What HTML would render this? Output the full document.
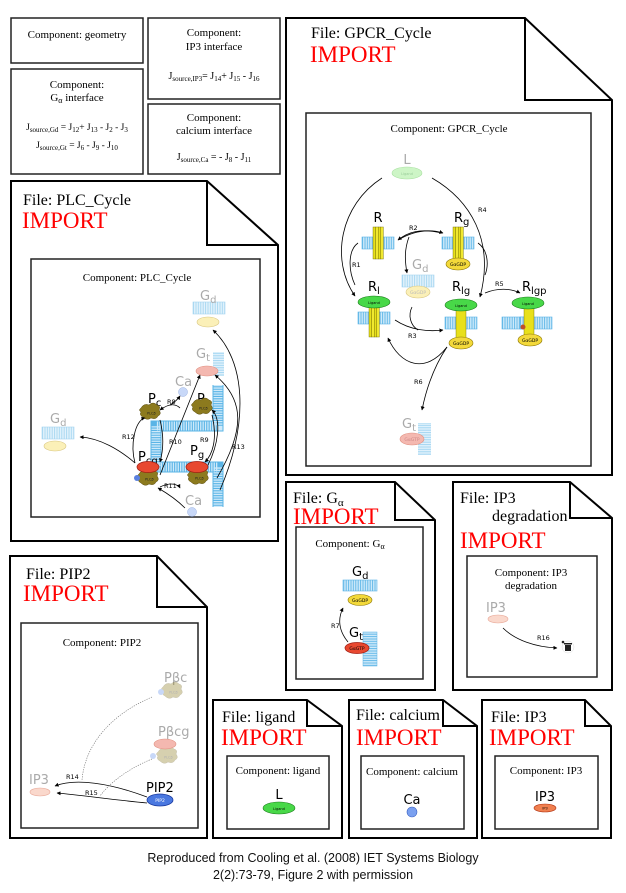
<!DOCTYPE html>
<html><head><meta charset="utf-8"><style>
html,body{margin:0;padding:0;background:#fff}
svg{display:block}
.s{font-family:"Liberation Serif",serif;fill:#000}
.a{font-family:"Liberation Sans",sans-serif}
.imp{font-family:"Liberation Serif",serif;fill:#f00;font-size:23px}
.ft{font-family:"Liberation Serif",serif;font-size:16px}
.ct{font-family:"Liberation Serif",serif;font-size:11px}
.rl{font-family:"DejaVu Sans",sans-serif;font-size:6.5px}
.ml{font-family:"DejaVu Sans",sans-serif;font-size:13px}
.gy{fill:#aaa}
.ln{fill:none;stroke:#000;stroke-width:0.8}
.dl{fill:none;stroke:#666;stroke-width:0.6;stroke-dasharray:1.2 1.2}
.bx{fill:#fff;stroke:#222;stroke-width:1.5}
.fb{fill:#fff;stroke:#000;stroke-width:2}
</style></head><body>
<svg width="626" height="893" viewBox="0 0 626 893" xmlns="http://www.w3.org/2000/svg">
<defs>
<pattern id="mp" width="2.4" height="12" patternUnits="userSpaceOnUse">
<rect width="2.4" height="12" fill="#cfeafa"/><line x1="0.6" y1="0" x2="0.6" y2="12" stroke="#5ab4e6" stroke-width="0.9"/>
</pattern>
<pattern id="mpv" width="12" height="2.4" patternUnits="userSpaceOnUse">
<rect width="12" height="2.4" fill="#cfeafa"/><line x1="0" y1="0.6" x2="12" y2="0.6" stroke="#5ab4e6" stroke-width="0.9"/>
</pattern>
<g id="mem"><rect x="0" y="0" width="32" height="12" fill="url(#mp)" stroke="#5ab4e6" stroke-width="0.6"/></g>
<g id="hel"><rect x="0" y="0" width="2.6" height="32" fill="#e8e01a" stroke="#6a6400" stroke-width="0.4"/><rect x="2.6" y="0" width="2.6" height="32" fill="#f0e830" stroke="#6a6400" stroke-width="0.4"/><rect x="5.2" y="0" width="2.6" height="32" fill="#e8e01a" stroke="#6a6400" stroke-width="0.4"/><rect x="7.8" y="0" width="2.6" height="32" fill="#f0e830" stroke="#6a6400" stroke-width="0.4"/></g>
<g id="plc"><path d="M-9,-5 q3,-5 8,-3 q4,-4 8,0 q4,1 2,5 q3,4 -1,6 q-2,4 -7,2 q-4,3 -8,-1 q-4,-2 -2,-5 q-3,-2 0,-4z" fill="#8c7a1e" stroke="#5a4c10" stroke-width="0.5"/><text x="-3" y="1.5" font-size="3.5" font-family="DejaVu Sans" fill="#222">PLCβ</text></g>
<marker id="ar" viewBox="0 0 10 10" refX="9" refY="5" markerWidth="5" markerHeight="5" orient="auto"><path d="M0,0L10,5L0,10z" fill="#000"/></marker>
</defs>

<!-- top left boxes -->
<rect x="11" y="18" width="132" height="45" class="bx"/>
<text x="77" y="38" class="ct" text-anchor="middle">Component: geometry</text>
<rect x="11" y="69" width="132" height="105" class="bx"/>
<text x="77" y="88" class="ct" text-anchor="middle">Component:</text>
<text x="77" y="101" class="ct" text-anchor="middle">G<tspan font-size="8" dy="2">α</tspan><tspan dy="-2"> interface</tspan></text>
<text x="77" y="130" class="s" font-size="9.5" text-anchor="middle">J<tspan font-size="7" dy="2">source,Gd</tspan><tspan dy="-2"> = J</tspan><tspan font-size="7" dy="2">12</tspan><tspan dy="-2">+ J</tspan><tspan font-size="7" dy="2">13</tspan><tspan dy="-2"> - J</tspan><tspan font-size="7" dy="2">2</tspan><tspan dy="-2"> - J</tspan><tspan font-size="7" dy="2">3</tspan></text>
<text x="77" y="148" class="s" font-size="9.5" text-anchor="middle">J<tspan font-size="7" dy="2">source,Gt</tspan><tspan dy="-2"> = J</tspan><tspan font-size="7" dy="2">6</tspan><tspan dy="-2"> - J</tspan><tspan font-size="7" dy="2">9</tspan><tspan dy="-2"> - J</tspan><tspan font-size="7" dy="2">10</tspan></text>
<rect x="148" y="18" width="132" height="81" class="bx"/>
<text x="214" y="36" class="ct" text-anchor="middle">Component:</text>
<text x="214" y="50" class="ct" text-anchor="middle">IP3 interface</text>
<text x="214" y="79" class="s" font-size="10" text-anchor="middle">J<tspan font-size="7" dy="2">source,IP3</tspan><tspan dy="-2">= J</tspan><tspan font-size="7" dy="2">14</tspan><tspan dy="-2">+ J</tspan><tspan font-size="7" dy="2">15</tspan><tspan dy="-2"> - J</tspan><tspan font-size="7" dy="2">16</tspan></text>
<rect x="148" y="104" width="132" height="70" class="bx"/>
<text x="214" y="121" class="ct" text-anchor="middle">Component:</text>
<text x="214" y="134" class="ct" text-anchor="middle">calcium interface</text>
<text x="214" y="160" class="s" font-size="10" text-anchor="middle">J<tspan font-size="7" dy="2">source,Ca</tspan><tspan dy="-2"> = - J</tspan><tspan font-size="7" dy="2">8</tspan><tspan dy="-2"> - J</tspan><tspan font-size="7" dy="2">11</tspan></text>

<!-- GPCR file -->
<path d="M286,18 H525 L612,100 V475 H286 Z" class="fb"/>
<path d="M525,18 V100 H612" fill="none" stroke="#000" stroke-width="2"/>
<text x="311" y="38" class="ft">File: GPCR_Cycle</text>
<text x="310" y="62" class="imp">IMPORT</text>
<rect x="306" y="113" width="285" height="353" class="bx"/>
<text x="449" y="132" class="ct" text-anchor="middle">Component: GPCR_Cycle</text>
<text x="407" y="164" class="ml gy" text-anchor="middle">L</text>
<ellipse cx="407" cy="173" rx="15" ry="6" fill="#cdf5c6" stroke="#a8e0a0" stroke-width="0.6"/>
<text x="407" y="175" font-size="3.5" font-family="DejaVu Sans" fill="#9c9" text-anchor="middle">Ligand</text>
<text x="378" y="222" class="ml" text-anchor="middle">R</text>
<use href="#mem" x="362" y="237"/>
<use href="#hel" x="373" y="227"/>
<text x="454" y="222" class="ml">R<tspan font-size="10" dy="3">g</tspan></text>
<use href="#mem" x="442" y="237"/>
<use href="#hel" x="453" y="227"/>
<ellipse cx="458" cy="264" rx="12" ry="6" fill="#f3d93a" stroke="#8a7400" stroke-width="0.6"/>
<text x="458" y="266" font-size="4.5" font-family="DejaVu Sans" text-anchor="middle">GαGDP</text>
<text x="412" y="269" class="ml gy">G<tspan font-size="10" dy="3">d</tspan></text>
<use href="#mem" x="402" y="275" opacity="0.55"/>
<ellipse cx="418" cy="292" rx="12" ry="6" fill="#fbf0b8" stroke="#d8c680" stroke-width="0.6"/>
<text x="418" y="294" font-size="4.5" font-family="DejaVu Sans" fill="#bbb" text-anchor="middle">GαGDP</text>
<text x="368" y="291" class="ml">R<tspan font-size="10" dy="3">l</tspan></text>
<use href="#mem" x="358" y="312"/>
<use href="#hel" x="369" y="305"/>
<ellipse cx="374" cy="302" rx="16" ry="6" fill="#48d848" stroke="#1a7a1a" stroke-width="0.6"/>
<text x="374" y="304" font-size="3.5" font-family="DejaVu Sans" text-anchor="middle">Ligand</text>
<text x="452" y="291" class="ml">R<tspan font-size="10" dy="3">lg</tspan></text>
<use href="#mem" x="445" y="317"/>
<rect x="456" y="310" width="10" height="28" fill="#e8e01a" stroke="#6a6400" stroke-width="0.4"/>
<ellipse cx="461" cy="305" rx="16" ry="6" fill="#48d848" stroke="#1a7a1a" stroke-width="0.6"/>
<text x="461" y="307" font-size="3.5" font-family="DejaVu Sans" text-anchor="middle">Ligand</text>
<ellipse cx="461" cy="343" rx="12" ry="6" fill="#f3d93a" stroke="#8a7400" stroke-width="0.6"/>
<text x="461" y="345" font-size="4.5" font-family="DejaVu Sans" text-anchor="middle">GαGDP</text>
<text x="522" y="291" class="ml">R<tspan font-size="10" dy="3">lgp</tspan></text>
<use href="#mem" x="502" y="317"/><use href="#mem" x="520" y="317"/>
<rect x="524" y="308" width="10" height="28" fill="#e8e01a" stroke="#6a6400" stroke-width="0.4"/>
<ellipse cx="528" cy="303" rx="16" ry="6" fill="#48d848" stroke="#1a7a1a" stroke-width="0.6"/>
<text x="528" y="305" font-size="3.5" font-family="DejaVu Sans" text-anchor="middle">Ligand</text>
<ellipse cx="530" cy="340" rx="12" ry="6" fill="#f3d93a" stroke="#8a7400" stroke-width="0.6"/>
<text x="530" y="342" font-size="4.5" font-family="DejaVu Sans" text-anchor="middle">GαGDP</text>
<circle cx="523" cy="327" r="2.5" fill="#c0502a"/>
<rect x="418" y="423" width="13" height="32" fill="url(#mpv)" opacity="0.6"/>
<text x="402" y="428" class="ml gy">G<tspan font-size="10" dy="3">t</tspan></text>
<ellipse cx="412" cy="439" rx="12" ry="6" fill="#f4b8b0" stroke="#e09080" stroke-width="0.6"/>
<text x="412" y="441" font-size="4.5" font-family="DejaVu Sans" fill="#c88" text-anchor="middle">GαGTP</text>
<path d="M382,178 C340,205 330,260 355,296" class="ln" marker-end="url(#ar)"/>
<path d="M432,178 C470,200 495,240 480,297" class="ln" marker-end="url(#ar)"/>
<path d="M442,233 C420,228 408,232 398,240" class="ln" marker-end="url(#ar)"/>
<path d="M398,240 C415,230 430,229 443,233" class="ln" marker-end="url(#ar)"/>
<path d="M409,237 C404,250 405,262 407,273" class="ln" marker-end="url(#ar)"/>
<path d="M358,243 C348,250 348,270 355,285" class="ln"/>
<path d="M478,243 C488,250 489,265 485,275" class="ln"/>
<path d="M485,293 C497,288 510,288 520,293" class="ln" marker-end="url(#ar)"/>
<path d="M395,320 C410,330 428,332 443,330" class="ln" marker-end="url(#ar)"/>
<path d="M412,307 C408,315 410,325 418,330" class="ln"/>
<path d="M447,347 C425,375 400,365 388,338" class="ln" marker-end="url(#ar)"/>
<path d="M447,347 C435,365 427,385 422,410" class="ln" marker-end="url(#ar)"/>
<text x="352" y="267" class="rl">R1</text>
<text x="409" y="230" class="rl">R2</text>
<text x="408" y="338" class="rl">R3</text>
<text x="478" y="212" class="rl">R4</text>
<text x="495" y="286" class="rl">R5</text>
<text x="414" y="384" class="rl">R6</text>

<!-- PLC file -->
<path d="M11,181 H207 L278,245 V541 H11 Z" class="fb"/>
<path d="M207,181 V245 H278" fill="none" stroke="#000" stroke-width="2"/>
<text x="23" y="205" class="ft">File: PLC_Cycle</text>
<text x="22" y="228" class="imp">IMPORT</text>
<rect x="31" y="259" width="229" height="258" class="bx"/>
<text x="137" y="281" class="ct" text-anchor="middle">Component: PLC_Cycle</text>
<path d="M218,385 V426 H156 V467 H218 V507" fill="none" stroke="#5ab4e6" stroke-width="11"/>
<path d="M218,385 V426 H156 V467 H218 V507" fill="none" stroke="#cfeafa" stroke-width="9" stroke-dasharray="1.3 1.1"/>
<use href="#mem" x="193" y="302" opacity="0.55"/>
<text x="200" y="300" class="ml gy">G<tspan font-size="10" dy="3">d</tspan></text>
<ellipse cx="208" cy="322" rx="11" ry="5" fill="#fbf0b8" stroke="#d8c680" stroke-width="0.6"/>
<rect x="213" y="352" width="11" height="24" fill="url(#mpv)" opacity="0.6"/>
<text x="196" y="358" class="ml gy">G<tspan font-size="10" dy="3">t</tspan></text>
<ellipse cx="207" cy="371" rx="11" ry="5" fill="#f4b8b0" stroke="#e09080" stroke-width="0.6"/>
<text x="175" y="386" class="ml gy">Ca</text>
<circle cx="183" cy="392" r="4.5" fill="#c8d8f8" stroke="#98b0e0" stroke-width="0.5"/>
<text x="148" y="403" class="ml">P<tspan font-size="10" dy="3">c</tspan></text>
<circle cx="144" cy="413" r="3" fill="#5a80e0"/>
<use href="#plc" x="150" y="413"/>
<text x="197" y="403" class="ml">P</text>
<use href="#plc" x="202" y="408"/>
<text x="50" y="423" class="ml gy">G<tspan font-size="10" dy="3">d</tspan></text>
<use href="#mem" x="42" y="427" opacity="0.55"/>
<ellipse cx="55" cy="446" rx="11" ry="5" fill="#fbf0b8" stroke="#d8c680" stroke-width="0.6"/>
<text x="138" y="461" class="ml">P<tspan font-size="10" dy="3">cg</tspan></text>
<use href="#plc" x="148" y="479"/>
<circle cx="137" cy="478" r="3" fill="#5a80e0"/>
<ellipse cx="148" cy="467" rx="11" ry="5.5" fill="#e84830" stroke="#a01a10" stroke-width="0.7"/>
<text x="190" y="455" class="ml">P<tspan font-size="10" dy="3">g</tspan></text>
<use href="#plc" x="198" y="478"/>
<ellipse cx="197" cy="467" rx="11" ry="5.5" fill="#e84830" stroke="#a01a10" stroke-width="0.7"/>
<text x="185" y="505" class="ml gy">Ca</text>
<circle cx="192" cy="512" r="4.5" fill="#c8d8f8" stroke="#98b0e0" stroke-width="0.5"/>
<path d="M180,408 C175,403 168,404 160,410" class="ln" marker-end="url(#ar)"/>
<path d="M170,405 C175,402 178,399 180,396" class="ln" marker-end="url(#ar)"/>
<path d="M135,463 C120,450 100,438 80,437" class="ln" marker-end="url(#ar)"/>
<path d="M135,463 C130,445 135,420 145,418" class="ln" marker-end="url(#ar)"/>
<path d="M160,475 L200,375" class="ln" marker-end="url(#ar)"/>
<path d="M160,420 C165,440 162,455 160,462" class="ln" marker-end="url(#ar)"/>
<path d="M212,415 C218,440 212,455 205,462" class="ln" marker-end="url(#ar)"/>
<path d="M208,465 C218,445 222,420 212,410" class="ln" marker-end="url(#ar)"/>
<path d="M217,478 C245,430 245,400 215,375" class="ln" marker-end="url(#ar)"/>
<path d="M220,490 C250,420 245,360 213,330" class="ln" marker-end="url(#ar)"/>
<path d="M185,508 C175,498 165,492 158,488" class="ln" marker-end="url(#ar)"/>
<path d="M160,487 C170,482 178,484 180,488" class="ln" marker-end="url(#ar)"/>
<text x="167" y="404" class="rl">R8</text>
<text x="122" y="439" class="rl">R12</text>
<text x="169" y="444" class="rl">R10</text>
<text x="200" y="442" class="rl">R9</text>
<text x="232" y="449" class="rl">R13</text>
<text x="164" y="488" class="rl">R11</text>

<!-- PIP2 file -->
<path d="M10,556 H157 L207,607 V838 H10 Z" class="fb"/>
<path d="M157,556 V607 H207" fill="none" stroke="#000" stroke-width="2"/>
<text x="26" y="579" class="ft">File: PIP2</text>
<text x="23" y="601" class="imp">IMPORT</text>
<rect x="21" y="623" width="177" height="205" class="bx"/>
<text x="102" y="646" class="ct" text-anchor="middle">Component: PIP2</text>
<text x="164" y="682" class="ml gy">Pβc</text>
<use href="#plc" x="172" y="692" opacity="0.35"/>
<circle cx="161" cy="692" r="3" fill="#c8d8f8"/>
<text x="158" y="736" class="ml gy">Pβcg</text>
<use href="#plc" x="167" y="757" opacity="0.35"/>
<circle cx="153" cy="756" r="3" fill="#c8d8f8"/>
<ellipse cx="165" cy="744" rx="11" ry="5" fill="#f4b8b0" stroke="#e09080" stroke-width="0.6"/>
<text x="29" y="784" class="ml gy">IP3</text>
<ellipse cx="40" cy="792" rx="10" ry="4" fill="#fad8cc" stroke="#e8a898" stroke-width="0.6"/>
<text x="146" y="792" class="ml">PIP2</text>
<ellipse cx="160" cy="800" rx="13" ry="6" fill="#4a78e0" stroke="#1a3aa0" stroke-width="0.8"/>
<text x="160" y="802" font-size="4.5" font-family="DejaVu Sans" fill="#fff" text-anchor="middle">PIP2</text>
<path d="M147,797 C110,783 75,778 55,786" class="ln" marker-end="url(#ar)"/>
<path d="M147,803 C115,800 80,795 57,793" class="ln" marker-end="url(#ar)"/>
<path d="M152,697 C110,715 85,745 82,780" class="dl"/>
<path d="M152,759 C125,770 108,785 100,796" class="dl"/>
<text x="66" y="779" class="rl">R14</text>
<text x="85" y="795" class="rl">R15</text>

<!-- G alpha file -->
<path d="M286,482 H395 L435,520 V690 H286 Z" class="fb"/>
<path d="M395,482 V520 H435" fill="none" stroke="#000" stroke-width="2"/>
<text x="293" y="503" class="ft">File: G<tspan font-size="11" dy="3">α</tspan></text>
<text x="293" y="524" class="imp">IMPORT</text>
<rect x="296" y="527" width="127" height="152" class="bx"/>
<text x="350" y="547" class="ct" text-anchor="middle">Component: G<tspan font-size="8" dy="2">α</tspan></text>
<text x="352" y="576" class="ml">G<tspan font-size="10" dy="3">d</tspan></text>
<rect x="343" y="580" width="34" height="11" fill="url(#mp)" stroke="#5ab4e6" stroke-width="0.6"/>
<ellipse cx="360" cy="600" rx="12" ry="5.5" fill="#f3d93a" stroke="#8a7400" stroke-width="0.6"/>
<text x="360" y="602" font-size="4.5" font-family="DejaVu Sans" text-anchor="middle">GαGDP</text>
<rect x="363" y="632" width="14" height="34" fill="url(#mpv)" stroke="#5ab4e6" stroke-width="0.5"/>
<text x="349" y="637" class="ml">G<tspan font-size="10" dy="3">t</tspan></text>
<ellipse cx="357" cy="648" rx="12" ry="5.5" fill="#e84830" stroke="#a01a10" stroke-width="0.7"/>
<text x="357" y="650" font-size="4.5" font-family="DejaVu Sans" text-anchor="middle">GαGTP</text>
<path d="M348,642 C338,630 338,618 343,608" class="ln" marker-end="url(#ar)"/>
<text x="331" y="628" class="rl">R7</text>

<!-- IP3 degradation -->
<path d="M453,482 H570 L612,518 V690 H453 Z" class="fb"/>
<path d="M570,482 V518 H612" fill="none" stroke="#000" stroke-width="2"/>
<text x="460" y="503" class="ft">File: IP3</text>
<text x="492" y="521" class="ft">degradation</text>
<text x="460" y="548" class="imp">IMPORT</text>
<rect x="467" y="556" width="130" height="121" class="bx"/>
<text x="531" y="576" class="ct" text-anchor="middle">Component: IP3</text>
<text x="531" y="589" class="ct" text-anchor="middle">degradation</text>
<text x="486" y="612" class="ml gy">IP3</text>
<ellipse cx="498" cy="619" rx="10" ry="4" fill="#fad8cc" stroke="#e8a898" stroke-width="0.6"/>
<path d="M503,628 C515,640 535,647 557,648" class="ln" marker-end="url(#ar)"/>
<text x="537" y="640" class="rl">R16</text>
<circle cx="568" cy="647" r="6" fill="#fff" stroke="#ddd" stroke-width="0.5"/>
<rect x="565" y="645" width="6" height="6" fill="#222"/><rect x="564" y="643" width="8" height="1.5" fill="#222"/><circle cx="563" cy="642" r="1.3" fill="#222"/>

<!-- ligand -->
<path d="M213,700 H307 L342,726 V838 H213 Z" class="fb"/>
<path d="M307,700 V726 H342" fill="none" stroke="#000" stroke-width="2"/>
<text x="222" y="722" class="ft">File: ligand</text>
<text x="221" y="745" class="imp">IMPORT</text>
<rect x="227" y="756" width="102" height="73" class="bx"/>
<text x="278" y="774" class="ct" text-anchor="middle">Component: ligand</text>
<text x="279" y="799" class="ml" text-anchor="middle">L</text>
<ellipse cx="279" cy="808" rx="16" ry="6" fill="#48d848" stroke="#1a7a1a" stroke-width="0.6"/>
<text x="279" y="810" font-size="3.5" font-family="DejaVu Sans" text-anchor="middle">Ligand</text>

<!-- calcium -->
<path d="M349,700 H443 L477,726 V838 H349 Z" class="fb"/>
<path d="M443,700 V726 H477" fill="none" stroke="#000" stroke-width="2"/>
<text x="356" y="720" class="ft">File: calcium</text>
<text x="356" y="745" class="imp">IMPORT</text>
<rect x="361" y="756" width="103" height="73" class="bx"/>
<text x="412" y="775" class="ct" text-anchor="middle">Component: calcium</text>
<text x="412" y="804" class="ml" text-anchor="middle">Ca</text>
<circle cx="412" cy="812" r="5" fill="#7aa0f0" stroke="#3a60c0" stroke-width="0.6"/>

<!-- IP3 -->
<path d="M482,700 H585 L611,726 V838 H482 Z" class="fb"/>
<path d="M585,700 V726 H611" fill="none" stroke="#000" stroke-width="2"/>
<text x="491" y="722" class="ft">File: IP3</text>
<text x="489" y="745" class="imp">IMPORT</text>
<rect x="495" y="756" width="103" height="73" class="bx"/>
<text x="546" y="774" class="ct" text-anchor="middle">Component: IP3</text>
<text x="545" y="801" class="ml" text-anchor="middle">IP3</text>
<ellipse cx="545" cy="808" rx="11" ry="4" fill="#f08050" stroke="#b03010" stroke-width="0.6"/>
<text x="545" y="809.5" font-size="3.5" font-family="DejaVu Sans" text-anchor="middle">IP3</text>

<text x="313" y="862" class="a" font-size="12.5" text-anchor="middle" fill="#111">Reproduced from Cooling et al. (2008) IET Systems Biology</text>
<text x="313" y="879" class="a" font-size="12.5" text-anchor="middle" fill="#111">2(2):73-79, Figure 2 with permission</text>
</svg>
</body></html>
